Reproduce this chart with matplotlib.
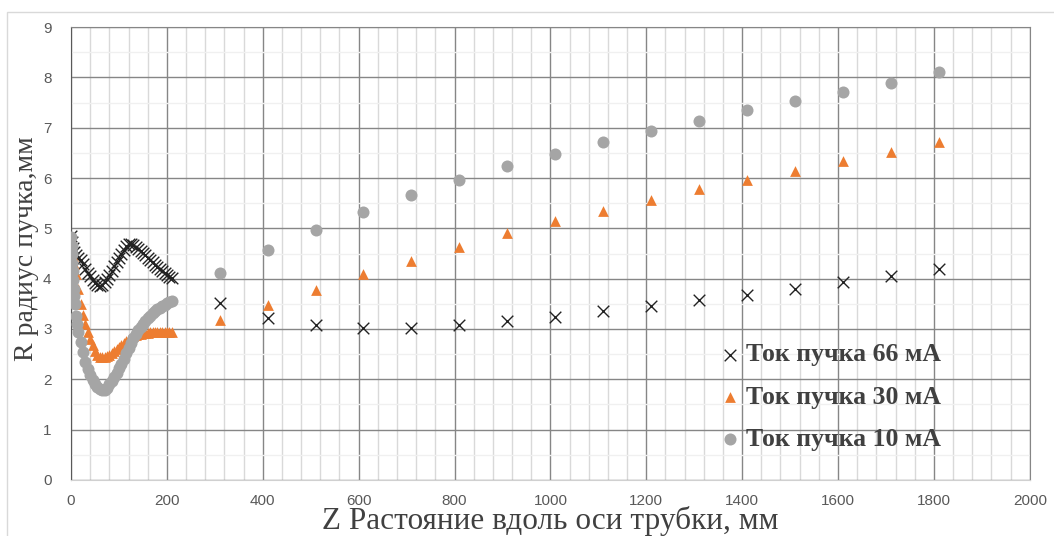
import matplotlib.pyplot as plt
from matplotlib.patches import Rectangle
from matplotlib.ticker import MultipleLocator
import numpy as np

# dense part near the tube entrance
z_66 = [0, 2, 4, 6, 10, 15, 20, 25, 30, 35, 40, 45, 50, 55, 60, 65, 70, 75, 80, 85,
        90, 95, 100, 105, 110, 115, 120, 125, 130, 135, 140, 145, 150, 155, 160,
        165, 170, 175, 180, 185, 190, 195, 200, 205, 210,
        310, 410, 510, 610, 710, 810, 910, 1010, 1110, 1210, 1310, 1410, 1510, 1610, 1710, 1810]
r_66 = [4.85, 4.72, 4.6, 4.52, 4.47, 4.42, 4.38, 4.3, 4.2, 4.12, 4.05, 3.98, 3.92, 3.87, 3.85,
        3.87, 3.93, 4.0, 4.08, 4.16, 4.25, 4.33, 4.41, 4.49, 4.57, 4.64, 4.68, 4.69, 4.67,
        4.63, 4.59, 4.55, 4.51, 4.47, 4.42, 4.38, 4.33, 4.28, 4.24, 4.19, 4.15, 4.11, 4.07,
        4.04, 4.01,
        3.52, 3.22, 3.08, 3.02, 3.02, 3.08, 3.16, 3.24, 3.36, 3.46, 3.58, 3.68, 3.80, 3.94, 4.06, 4.19]

z_30 = [0, 2, 4, 6, 10, 15, 20, 25, 30, 35, 40, 45, 50, 55, 60, 65, 70, 75, 80, 85,
        90, 95, 100, 105, 110, 115, 120, 125, 130, 135, 140, 145, 150, 155, 160,
        165, 170, 175, 180, 185, 190, 195, 200, 205, 210,
        310, 410, 510, 610, 710, 810, 910, 1010, 1110, 1210, 1310, 1410, 1510, 1610, 1710, 1810]
r_30 = [4.8, 4.6, 4.45, 4.3, 4.1, 3.8, 3.5, 3.28, 3.1, 2.95, 2.8, 2.68, 2.56, 2.48, 2.45,
        2.44, 2.44, 2.46, 2.49, 2.53, 2.57, 2.61, 2.65, 2.69, 2.73, 2.77, 2.8, 2.83, 2.86,
        2.88, 2.9, 2.91, 2.92, 2.93, 2.93, 2.94, 2.94, 2.94, 2.95, 2.95, 2.95, 2.95, 2.95,
        2.95, 2.95,
        3.18, 3.48, 3.78, 4.10, 4.35, 4.63, 4.91, 5.15, 5.35, 5.57, 5.79, 5.96, 6.14, 6.34, 6.52, 6.72]

z_10 = [0, 1, 2, 3, 4, 5, 6, 7, 8, 10, 12, 15, 20, 25, 30, 35, 40, 45, 50, 55, 60, 65, 70, 75, 80, 85,
        90, 95, 100, 105, 110, 115, 120, 125, 130, 135, 140, 145, 150, 155, 160,
        165, 170, 175, 180, 185, 190, 195, 200, 205, 210,
        310, 410, 510, 610, 710, 810, 910, 1010, 1110, 1210, 1310, 1410, 1510, 1610, 1710, 1810]
r_10 = [4.82, 4.65, 4.5, 4.32, 4.15, 3.98, 3.8, 3.65, 3.5, 3.25, 3.1, 2.95, 2.75, 2.55, 2.35,
        2.2, 2.08, 1.98, 1.9,
        1.84, 1.8, 1.78, 1.79, 1.83, 1.9, 1.96, 2.04, 2.13, 2.22, 2.31, 2.41, 2.52, 2.63,
        2.73, 2.82, 2.9, 2.98, 3.04, 3.1, 3.16, 3.21, 3.26, 3.31, 3.35, 3.39, 3.42, 3.45,
        3.48, 3.51, 3.54, 3.56,
        4.12, 4.57, 4.97, 5.33, 5.67, 5.96, 6.24, 6.48, 6.72, 6.94, 7.14, 7.36, 7.53, 7.71, 7.89, 8.11]

labels = ['Ток пучка 66 мА', 'Ток пучка 30 мА', 'Ток пучка 10 мА']

fig = plt.figure(figsize=(10.54, 5.36), dpi=100)
ax = fig.add_axes([0.0674, 0.1045, 0.9096, 0.8451])

fig.patches.append(Rectangle((7 / 1054, -0.01), 1.1, 1 - 12 / 536 + 0.01, transform=fig.transFigure,
                             fill=False, edgecolor='#d9d9d9', linewidth=1))

ax.scatter(z_66, r_66, marker='x', s=70, color='#222222', linewidths=1.0, label=labels[0], zorder=3)
ax.scatter(z_30, r_30, marker='^', s=60, color='#ed7d31', linewidths=0, label=labels[1], zorder=3)
ax.scatter(z_10, r_10, marker='o', s=75, color='#a5a5a5', linewidths=0, label=labels[2], zorder=3)

ax.set_xlim(0, 2000)
ax.set_ylim(0, 9)
ax.xaxis.set_major_locator(MultipleLocator(200))
ax.xaxis.set_minor_locator(MultipleLocator(40))
ax.yaxis.set_major_locator(MultipleLocator(1))
ax.yaxis.set_minor_locator(MultipleLocator(0.5))
ax.grid(True, which='major', color='#868686', linewidth=1.0, zorder=0)
ax.grid(True, which='minor', axis='x', color='#d9d9d9', linewidth=1.0, zorder=0)
ax.grid(True, which='minor', axis='y', color='#f0f0f0', linewidth=1.0, zorder=0)
ax.set_axisbelow(True)
ax.tick_params(which='both', length=0)
ax.tick_params(labelsize=11, labelcolor='#595959')
ax.tick_params(axis='y', pad=14)
ax.tick_params(axis='x', pad=10)
for lab in ax.get_xticklabels() + ax.get_yticklabels():
    lab.set_family('Liberation Sans')

ax.spines['left'].set_color('#595959')
ax.spines['bottom'].set_color('#d0d0d0')
ax.spines['top'].set_color('#868686')
ax.spines['right'].set_color('#868686')

fig.text(550 / 1054, 1 - 521 / 536, 'Z Растояние вдоль оси трубки, мм', family='Liberation Serif',
         fontsize=22.5, color='#404040', ha='center', va='center')
fig.text(27 / 1054, 1 - 249 / 536, 'R радиус пучка,мм', family='Liberation Serif',
         fontsize=20, color='#404040', ha='center', va='center', rotation=90)

leg = ax.legend(loc='center left', bbox_to_anchor=(0.677, 0.183), frameon=False,
                prop={'family': 'Liberation Serif', 'weight': 'bold', 'size': 18.5},
                handlelength=0.8, handletextpad=0.2, labelspacing=0.75, borderpad=0,
                borderaxespad=0)
for t in leg.get_texts():
    t.set_color('#404040')

fig.savefig('out.png', dpi=100)
